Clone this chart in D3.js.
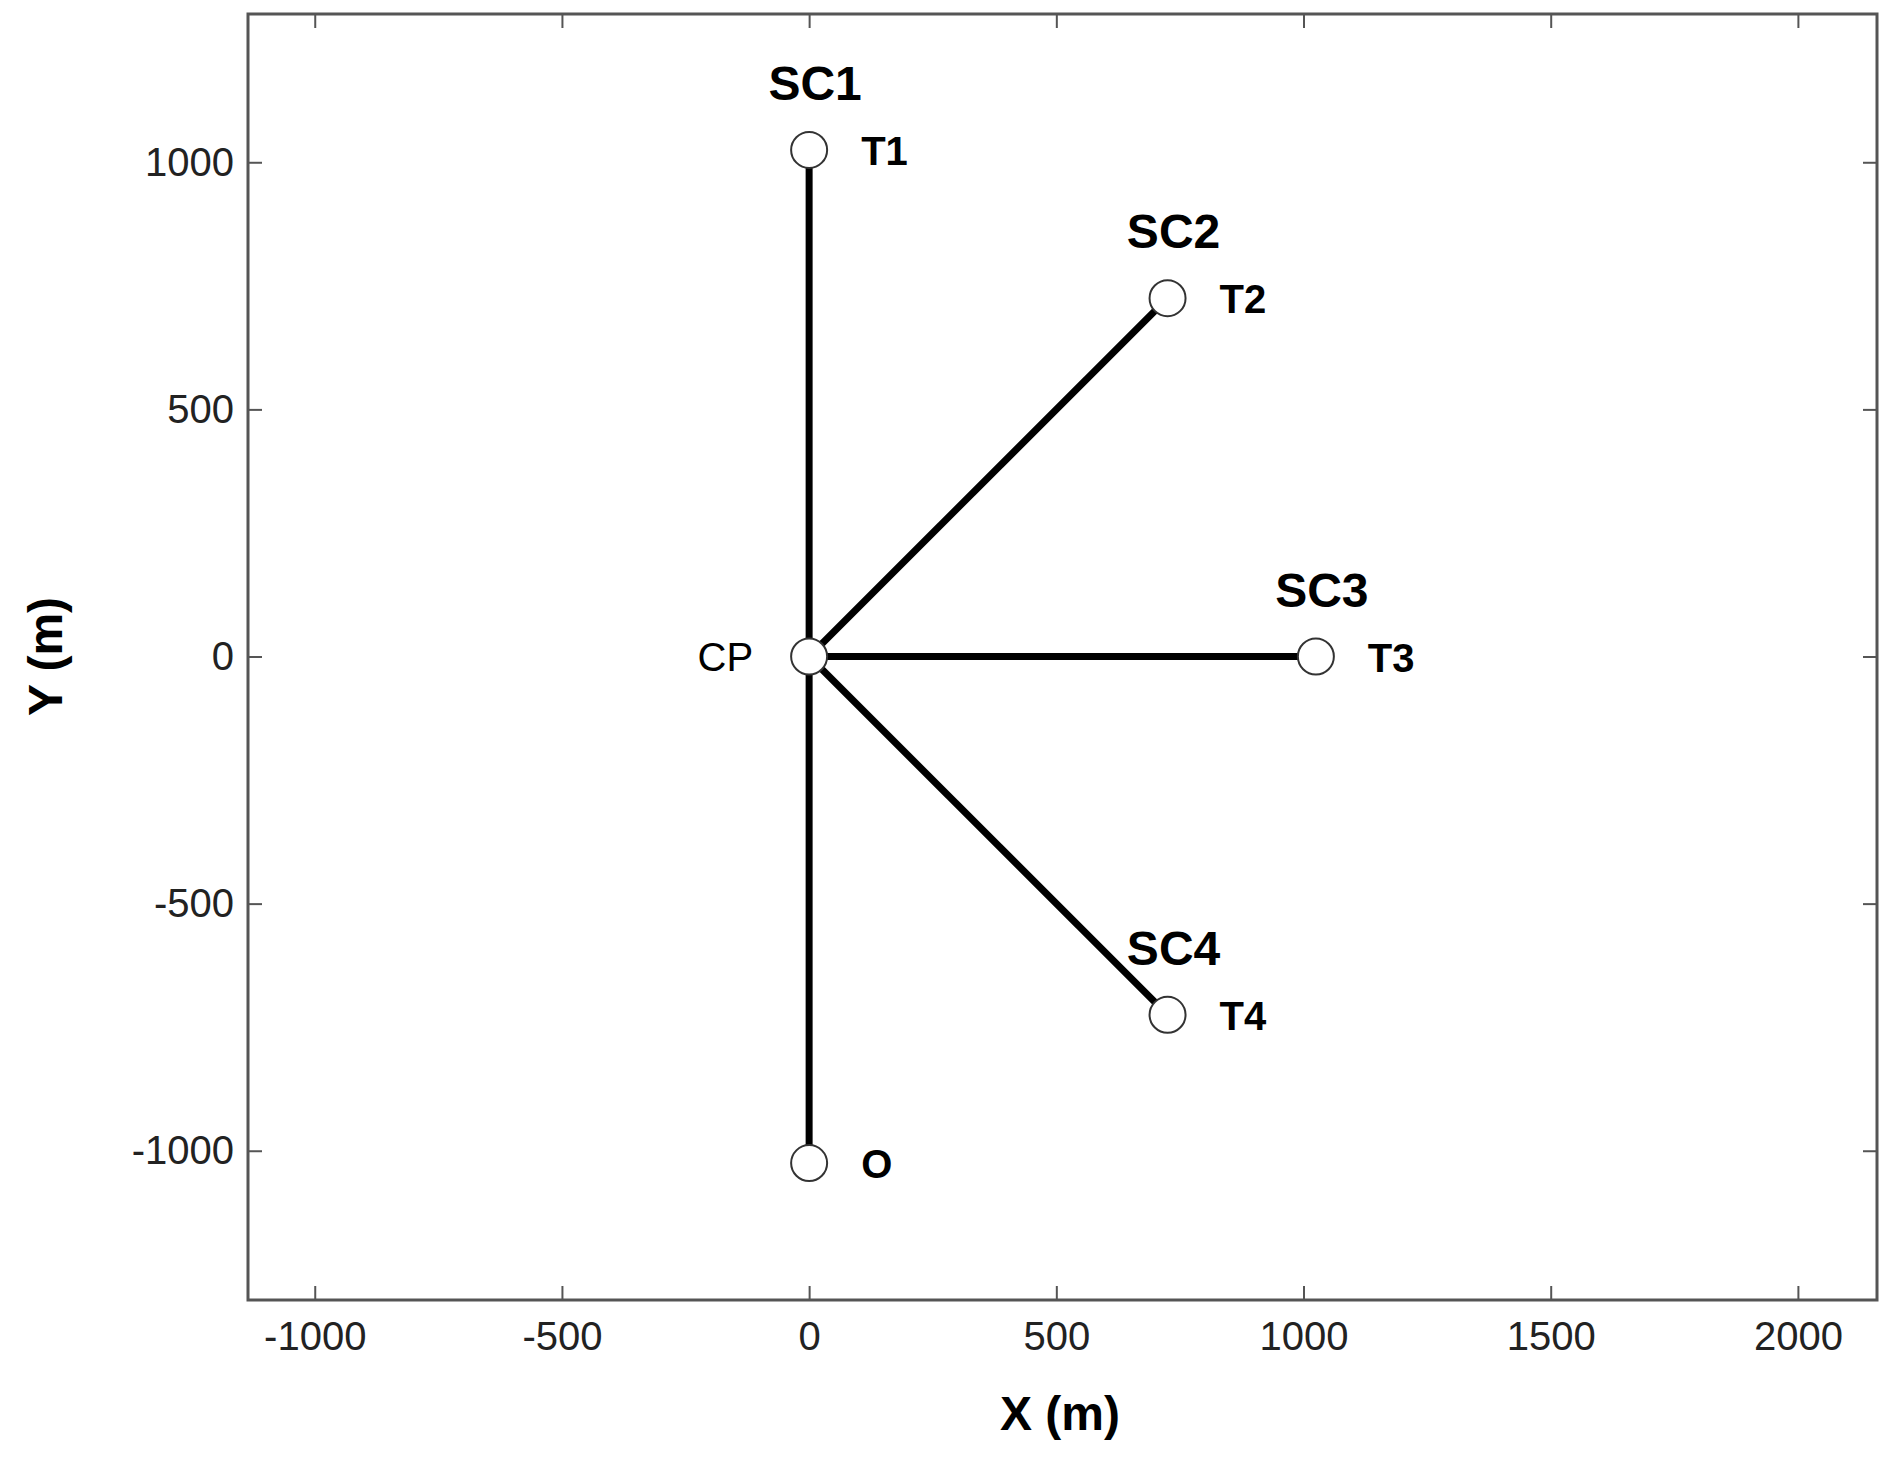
<!DOCTYPE html><html><head><meta charset="utf-8"><script src="https://cdn.jsdelivr.net/npm/d3@7"></script>
<style>body{margin:0;background:#fff}text{font-family:Arial,"Liberation Sans",sans-serif}</style></head><body><svg id="c" width="1893" height="1460"></svg><script>
const nodes=["CP","T1","T2","T3","T4","O"];
const nodeX=[0,0,725,1025,725,0];
const nodeY=[0,1025,725,0,-725,-1025];
const scLabels=["SC1","SC2","SC3","SC4"];
const xTicks=[-1000,-500,0,500,1000,1500,2000];
const yTicks=[-1000,-500,0,500,1000];
const svg=d3.select("#c");
const L=248,R=1877,T=14,B=1300;
const x=d3.scaleLinear().domain([-1135,2160]).range([L,R]);
const y=d3.scaleLinear().domain([-1302,1300]).range([B,T]);
const fmt=d=>String(d);
const g=svg.append("g");
g.append("rect").attr("x",L).attr("y",T).attr("width",R-L).attr("height",B-T).attr("fill","none").attr("stroke","#555").attr("stroke-width",3);
const ax=(a,t)=>a.tickValues(t).tickSize(14).tickPadding(14).tickFormat(fmt);
const xa=g.append("g").attr("transform",`translate(0,${B})`).call(ax(d3.axisBottom(x),xTicks).tickSizeInner(-14));
const xt=g.append("g").attr("transform",`translate(0,${T})`).call(d3.axisTop(x).tickValues(xTicks).tickSizeInner(-14).tickFormat(""));
const ya=g.append("g").attr("transform",`translate(${L},0)`).call(ax(d3.axisLeft(y),yTicks).tickSizeInner(-14));
const yr=g.append("g").attr("transform",`translate(${R},0)`).call(d3.axisRight(y).tickValues(yTicks).tickSizeInner(-14).tickFormat(""));
[xa,xt,ya,yr].forEach(a=>{a.select(".domain").remove();a.selectAll("line").attr("stroke","#555").attr("stroke-width",2);a.selectAll("text").attr("font-size",40).attr("fill","#222").style("font-family","Arial");});
xa.selectAll("text").attr("dy","0.9em");
for(let i=1;i<nodes.length;i++){
 g.append("line").attr("x1",x(nodeX[0])).attr("y1",y(nodeY[0])).attr("x2",x(nodeX[i])).attr("y2",y(nodeY[i])).attr("stroke","#000").attr("stroke-width",7);
}
nodes.forEach((n,i)=>{
 g.append("circle").attr("cx",x(nodeX[i])).attr("cy",y(nodeY[i])).attr("r",18).attr("fill","#fff").attr("stroke","#333").attr("stroke-width",2);
 if(n==="CP") g.append("text").attr("x",x(nodeX[i])-56).attr("y",y(nodeY[i])+14).attr("text-anchor","end").attr("font-size",40).text(n);
 else g.append("text").attr("x",x(nodeX[i])+52).attr("y",y(nodeY[i])+15).attr("font-size",40).attr("font-weight","bold").text(n);
});
scLabels.forEach((s,i)=>{
 g.append("text").attr("x",x(nodeX[i+1])+6).attr("y",y(nodeY[i+1])-50).attr("text-anchor","middle").attr("font-size",48).attr("font-weight","bold").text(s);
});
g.append("text").attr("x",1060).attr("y",1430).attr("text-anchor","middle").attr("font-size",48).attr("font-weight","bold").text("X (m)");
g.append("text").attr("transform",`translate(62,${y(0)}) rotate(-90)`).attr("text-anchor","middle").attr("font-size",48).attr("font-weight","bold").text("Y (m)");
</script></body></html>
